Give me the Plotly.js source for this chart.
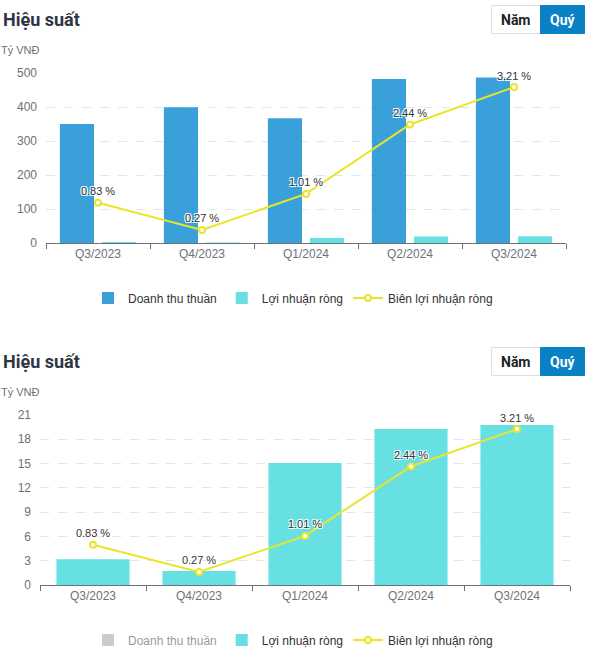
<!DOCTYPE html>
<html>
<head>
<meta charset="utf-8">
<script src="https://cdn.plot.ly/plotly-3.0.1.min.js"></script>
<style>
  html, body { margin: 0; padding: 0; background: #fff; width: 600px; height: 672px; overflow: hidden; }
  #c1 { position: absolute; left: 0; top: 0; width: 600px; height: 342px; }
  #c2 { position: absolute; left: 0; top: 342px; width: 600px; height: 330px; }
</style>
</head>
<body>
<div id="c1"></div>
<div id="c2"></div>
<script>
// ---- Data ----
const categories = ['Q3/2023', 'Q4/2023', 'Q1/2024', 'Q2/2024', 'Q3/2024'];
const revenue = [350, 399, 367, 482, 487];          // Doanh thu thuần (Tỷ VNĐ)
const netProfit = [3.17, 1.73, 15.07, 19.27, 19.77]; // Lợi nhuận ròng (Tỷ VNĐ)
const margin = [0.83, 0.27, 1.01, 2.44, 3.21];       // Biên lợi nhuận ròng (%)
const marginLabels = ['0.83 %', '0.27 %', '1.01 %', '2.44 %', '3.21 %'];
const seriesNames = ['Doanh thu thuần', 'Lợi nhuận ròng', 'Biên lợi nhuận ròng'];
const topYTicks = [0, 100, 200, 300, 400, 500];
const bottomYTicks = [0, 3, 6, 9, 12, 15, 18, 21];

// ---- Styles ----
const BLUE = '#3aa0da', CYAN = '#66e0e3', YELLOW = '#ece42a';
const AXIS_GREY = '#6e7079', GRID = '#e0e6f1';
const FONT = '"Liberation Sans", Arial, sans-serif';
const TITLE_FONT = 'Roboto, "Noto Sans", sans-serif';

function buildChart(el, height, opts) {
  const L = opts.left, R = opts.right, T = 73, B = opts.bottom;
  const plotW = 600 - L - R;
  const plotH = height - T - B;
  const xp = px => (px - L) / plotW;
  const yp = py => (T + plotH - py) / plotH;

  const traces = [
    {
      type: 'bar', name: seriesNames[0], x: categories, y: revenue,
      marker: { color: opts.revenueColor },
      visible: opts.revenueVisible,
      hoverinfo: 'skip'
    },
    {
      type: 'bar', name: seriesNames[1], x: categories, y: netProfit,
      marker: { color: CYAN },
      hoverinfo: 'skip'
    },
    {
      type: 'scatter', mode: 'lines+markers+text', name: seriesNames[2],
      x: categories, y: margin, yaxis: 'y2',
      text: marginLabels, textposition: 'top center',
      textfont: { size: 11, color: '#333', family: FONT,
        shadow: '1px 1px 0 #fff, -1px -1px 0 #fff, 1px -1px 0 #fff, -1px 1px 0 #fff' },
      line: { color: YELLOW, width: 2 },
      marker: { size: 6, color: '#fff', line: { color: YELLOW, width: 2 } },
      hoverinfo: 'skip', cliponaxis: false
    }
  ];

  const shapes = [
    { type: 'rect', xref: 'paper', yref: 'paper', x0: xp(491.5), x1: xp(540.5), y0: yp(33.5), y1: yp(5.5),
      fillcolor: '#fff', line: { color: '#dcdfe3', width: 1 } },
    { type: 'rect', xref: 'paper', yref: 'paper', x0: xp(540.5), x1: xp(584.5), y0: yp(33.5), y1: yp(5.5),
      fillcolor: '#0a80c5', line: { color: '#0a80c5', width: 1 } }
  ];

  const annotations = [
    { text: '<b>Hiệu suất</b>', xref: 'paper', yref: 'paper', x: xp(1), y: yp(19),
      xanchor: 'left', yanchor: 'middle', showarrow: false,
      font: { size: 18, color: '#2f3542', family: TITLE_FONT } },
    { text: 'Tỷ VNĐ', xref: 'paper', yref: 'paper', x: xp(-1), y: yp(50),
      xanchor: 'left', yanchor: 'middle', showarrow: false,
      font: { size: 11, color: AXIS_GREY, family: FONT } },
    { text: '<b>Năm</b>', xref: 'paper', yref: 'paper', x: xp(516), y: yp(19.5),
      xanchor: 'center', yanchor: 'middle', showarrow: false,
      font: { size: 14, color: '#222', family: TITLE_FONT } },
    { text: '<b>Quý</b>', xref: 'paper', yref: 'paper', x: xp(562.5), y: yp(19.5),
      xanchor: 'center', yanchor: 'middle', showarrow: false,
      font: { size: 14, color: '#fff', family: TITLE_FONT } }
  ];

  const layout = {
    width: 600, height: height,
    margin: { l: L, r: R, t: T, b: B, pad: 0 },
    paper_bgcolor: '#fff', plot_bgcolor: '#fff',
    font: { family: FONT, size: 12, color: '#333' },
    barmode: 'group', bargap: opts.bargap, bargroupgap: opts.bargroupgap,
    showlegend: true,
    legend: { orientation: 'h', x: xp(293), xanchor: 'center', y: yp(298), yanchor: 'middle',
      font: { size: 12, color: '#333', family: FONT }, itemclick: false, itemdoubleclick: false },
    xaxis: {
      type: 'category', showline: true, linecolor: AXIS_GREY, linewidth: 1,
      ticks: 'outside', tickson: 'boundaries', ticklen: 5, tickcolor: AXIS_GREY,
      tickfont: { size: 12, color: AXIS_GREY }, showgrid: false, fixedrange: true
    },
    yaxis: {
      range: opts.yRange, tickvals: opts.yTicks, showline: false, zeroline: false,
      showgrid: true, gridcolor: GRID, griddash: 'dash', gridwidth: 1,
      tickfont: { size: 12, color: AXIS_GREY }, ticks: '', ticklabelstandoff: 8, fixedrange: true
    },
    yaxis2: {
      overlaying: 'y', side: 'right', range: [0, 3.5], visible: false,
      showgrid: false, zeroline: false, fixedrange: true
    },
    shapes: shapes,
    annotations: annotations,
    hovermode: false
  };

  Plotly.newPlot(el, traces, layout, { displayModeBar: false, staticPlot: true });
}

buildChart('c1', 342, {
  left: 46, right: 34, bottom: 99,
  revenueColor: BLUE, revenueVisible: true, yRange: [0, 500], yTicks: topYTicks,
  bargap: 0.19, bargroupgap: 0.19
});
buildChart('c2', 330, {
  left: 40, right: 30, bottom: 87,
  revenueColor: '#999', revenueVisible: 'legendonly', yRange: [0, 21], yTicks: bottomYTicks,
  bargap: 0.31, bargroupgap: 0
});
</script>
</body>
</html>
